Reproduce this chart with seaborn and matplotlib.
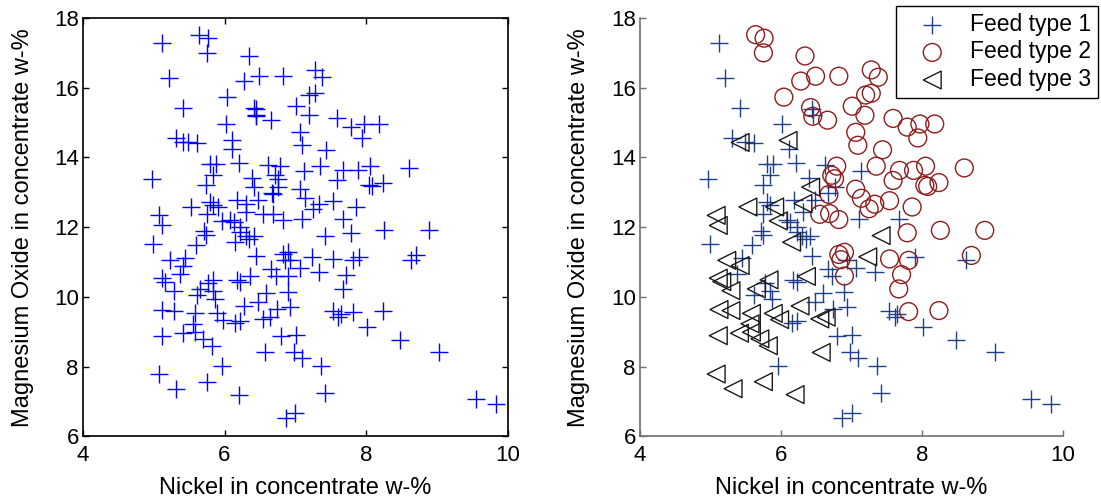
import numpy as np
import pandas as pd
import matplotlib
matplotlib.use("Agg")
import matplotlib.pyplot as plt
import seaborn as sns

# Nickel (w-%) and MgO (w-%) in concentrate, by feed type
feed1_ni = [5.12, 5.21, 5.42, 6.02, 6.44, 6.45, 5.31, 5.49, 5.61, 6.11,
            4.97, 5.80, 5.88, 5.84, 5.74, 6.21, 6.62, 7.13, 6.39, 6.67,
            6.76, 6.18, 6.48, 6.31, 7.10, 7.67, 5.80, 5.84, 6.08, 6.13,
            5.75, 6.22, 4.99, 5.71, 5.74, 5.59, 6.22, 6.30, 6.35, 6.41,
            5.44, 5.37, 6.44, 6.17, 6.22, 6.66, 6.73, 6.93, 7.07, 7.34,
            7.90, 8.63, 5.77, 5.84, 5.87, 5.61, 6.59, 6.90, 6.48, 6.74,
            6.93, 6.15, 6.22, 6.80, 7.01, 6.98, 7.09, 7.36, 5.96, 6.87,
            7.00, 7.42, 7.53, 7.61, 7.65, 8.01, 8.48, 9.03, 9.55, 9.83]
feed1_mgo = [17.27, 16.27, 15.41, 14.97, 15.39, 15.21, 14.57, 14.45, 14.42, 14.24,
             13.39, 13.82, 13.82, 13.49, 13.20, 13.85, 13.78, 13.62, 13.42, 12.98,
             13.15, 12.77, 12.77, 12.43, 12.24, 12.24, 12.72, 12.64, 12.22, 12.14,
             12.39, 12.00, 11.53, 11.88, 11.79, 11.48, 11.85, 11.75, 11.67, 11.76,
             11.12, 10.67, 11.18, 10.50, 10.44, 10.81, 10.59, 11.05, 10.83, 10.71,
             11.14, 11.05, 10.41, 10.18, 9.95, 10.07, 10.11, 10.14, 9.87, 9.66,
             9.70, 9.25, 9.31, 8.89, 8.92, 8.43, 8.24, 8.03, 8.03, 6.52,
             6.66, 7.24, 9.59, 9.42, 9.52, 9.13, 8.77, 8.41, 7.07, 6.93]

feed2_ni = [5.64, 5.76, 5.75, 6.34, 6.49, 6.28, 6.82, 6.04, 7.28, 7.38,
            7.20, 7.28, 7.01, 7.19, 6.42, 6.45, 6.66, 7.06, 7.09, 7.59,
            7.79, 7.97, 8.18, 7.94, 7.44, 6.79, 7.35, 6.72, 6.76, 7.68,
            7.88, 8.05, 8.60, 7.59, 8.04, 8.08, 8.24, 6.68, 7.06, 7.14,
            7.33, 7.25, 7.54, 7.86, 6.55, 6.69, 6.82, 7.79, 8.26, 8.89,
            7.54, 7.81, 8.70, 7.71, 7.67, 7.81, 8.24, 6.82, 6.90, 6.85,
            6.90]
feed2_mgo = [17.52, 17.42, 17.00, 16.91, 16.33, 16.19, 16.33, 15.73, 16.51, 16.30,
             15.79, 15.84, 15.47, 15.21, 15.43, 15.18, 15.07, 14.72, 14.35, 15.12,
             14.87, 14.96, 14.96, 14.56, 14.22, 13.75, 13.75, 13.49, 13.39, 13.63,
             13.63, 13.75, 13.70, 13.34, 13.20, 13.17, 13.28, 12.94, 13.09, 12.83,
             12.66, 12.53, 12.76, 12.58, 12.37, 12.39, 12.22, 11.84, 11.91, 11.91,
             11.09, 11.05, 11.19, 10.64, 10.23, 9.58, 9.61, 11.22, 11.28, 11.07,
             10.60]

feed3_ni = [5.42, 6.10, 6.42, 5.53, 5.91, 6.31, 5.08, 5.11, 5.96, 6.15,
            5.23, 5.42, 5.11, 5.16, 5.29, 5.65, 5.83, 6.36, 7.42, 7.23,
            5.12, 5.29, 5.58, 5.89, 5.98, 5.56, 5.41, 5.58, 5.70, 5.82,
            6.27, 6.55, 6.64, 5.11, 6.57, 5.08, 5.32, 5.75, 6.20]
feed3_mgo = [14.43, 14.49, 13.15, 12.58, 12.58, 12.68, 12.34, 12.05, 12.18, 11.57,
             11.05, 10.90, 10.54, 10.44, 10.18, 10.23, 10.49, 10.59, 11.76, 11.15,
             9.64, 9.61, 9.53, 9.53, 9.35, 9.23, 8.96, 8.99, 8.80, 8.60,
             9.74, 9.37, 9.42, 8.89, 8.41, 7.79, 7.37, 7.57, 7.20]

feed_labels = ["Feed type 1", "Feed type 2", "Feed type 3"]
x_ticks = [4, 6, 8, 10]
y_ticks = [6, 8, 10, 12, 14, 16, 18]
x_label = "Nickel in concentrate w-%"
y_label = "Magnesium Oxide in concentrate w-%"

df = pd.concat([
    pd.DataFrame({"ni": feed1_ni, "mgo": feed1_mgo, "feed": feed_labels[0]}),
    pd.DataFrame({"ni": feed2_ni, "mgo": feed2_mgo, "feed": feed_labels[1]}),
    pd.DataFrame({"ni": feed3_ni, "mgo": feed3_mgo, "feed": feed_labels[2]}),
], ignore_index=True)

sns.set_style("white")
plt.rcParams["font.family"] = ["Liberation Sans", "DejaVu Sans"]
plt.rcParams["text.color"] = "black"
plt.rcParams["axes.labelcolor"] = "black"
plt.rcParams["xtick.labelcolor"] = "black"
plt.rcParams["ytick.labelcolor"] = "black"

fig = plt.figure(figsize=(11.01, 4.99), dpi=100)
ax1 = fig.add_axes([0.0754, 0.1253, 0.3856, 0.8387])
ax2 = fig.add_axes([0.5813, 0.1253, 0.3842, 0.8387])

FS = 16.5

# Left: all samples pooled
sns.scatterplot(data=df, x="ni", y="mgo", marker="+", color="#0000ff",
                s=150, linewidth=1.0, ax=ax1, legend=False)

# Right: samples separated by feed type
sns.scatterplot(data=df[df.feed == feed_labels[0]], x="ni", y="mgo", marker="+",
                color="#1e3f8e", s=150, linewidth=1.0, ax=ax2, label=feed_labels[0])
sns.scatterplot(data=df[df.feed == feed_labels[1]], x="ni", y="mgo", marker="o",
                facecolor="none", edgecolor="#8e1c1c", s=165, linewidth=1.0,
                ax=ax2, label=feed_labels[1])
sns.scatterplot(data=df[df.feed == feed_labels[2]], x="ni", y="mgo", marker="<",
                facecolor="none", edgecolor="#1a1a1a", s=165, linewidth=1.0,
                ax=ax2, label=feed_labels[2])

for ax in (ax1, ax2):
    ax.set_xlim(4, 10)
    ax.set_ylim(6, 18)
    ax.set_xticks(x_ticks)
    ax.set_yticks(y_ticks)
    ax.set_xlabel(x_label, fontsize=FS + 0.5, color="black")
    ax.set_ylabel(y_label, fontsize=FS + 0.5, color="black")
    ax.tick_params(labelsize=FS - 0.5, direction="in", length=4, width=1.0,
                   labelcolor="black")
    ax.tick_params(axis="x", pad=6)
    ax.tick_params(axis="y", pad=3)

# Boxed axes on the left panel
for sp in ax1.spines.values():
    sp.set_visible(True)
    sp.set_color("black")
    sp.set_linewidth(1.2)
ax1.tick_params(top=True, right=True, bottom=True, left=True, color="black")
ax1.xaxis.set_label_coords(0.5, -0.097)
ax1.yaxis.set_label_coords(-0.115, 0.5)

# Open axes on the right panel
for side in ("top", "right"):
    ax2.spines[side].set_visible(False)
for side in ("left", "bottom"):
    ax2.spines[side].set_visible(True)
    ax2.spines[side].set_color("#6e6e6e")
    ax2.spines[side].set_linewidth(1.2)
ax2.tick_params(bottom=True, left=True, top=False, right=False, color="#6e6e6e")
ax2.xaxis.set_label_coords(0.5, -0.097)
ax2.yaxis.set_label_coords(-0.118, 0.5)

leg = ax2.legend(loc="upper right", bbox_to_anchor=(0.9973, 0.988),
                 bbox_transform=fig.transFigure, fontsize=FS, frameon=True,
                 fancybox=False, shadow=False, borderaxespad=0, borderpad=0.3,
                 labelspacing=0.2, handletextpad=0.35, handlelength=2.6)
leg.get_frame().set_edgecolor("black")
leg.get_frame().set_linewidth(1.0)
leg.get_frame().set_alpha(1)
for txt in leg.get_texts():
    txt.set_color("black")

fig.savefig("out.png", dpi=100)
